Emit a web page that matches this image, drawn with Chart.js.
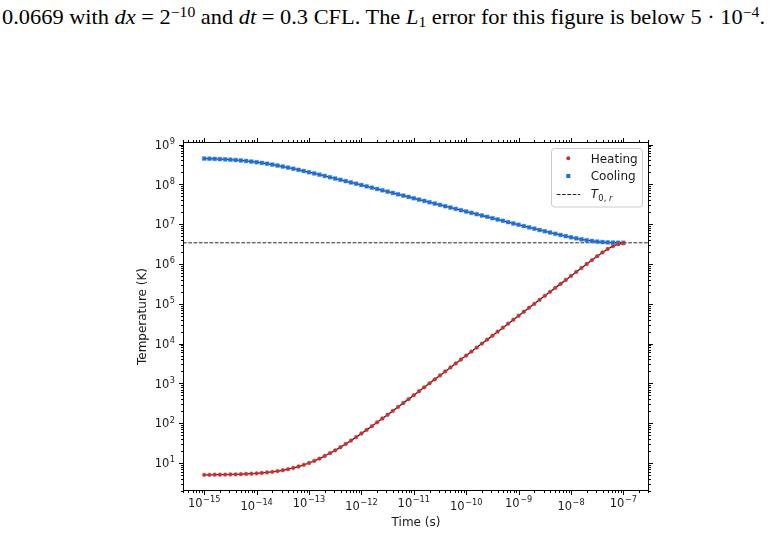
<!DOCTYPE html>
<html>
<head>
<meta charset="utf-8">
<script src="https://cdn.jsdelivr.net/npm/chart.js@4.4.1/dist/chart.umd.min.js"></script>
<style>
  body { margin: 0; background: #fff; }
  #wrap { position: relative; width: 771px; height: 535px; overflow: hidden; }
  #caption {
    position: absolute; left: 2px; top: 7px;
    font-family: "Liberation Serif", "DejaVu Serif", serif;
    font-size: 21px; line-height: 1; white-space: nowrap; color: #000;
    transform-origin: left top;
  }
  #caption .sup { position: relative; top: -0.45em; font-size: 0.7em; }
  #caption .sub { position: relative; top: 0.2em; font-size: 0.7em; }
  canvas { position: absolute; left: 0; top: 0; }
</style>
</head>
<body>
<div id="wrap">
  <div id="caption">0.0669 with <i>dx</i> = 2<span class="sup">−10</span> and <i>dt</i> = 0.3 CFL. The <i>L</i><span class="sub">1</span> error for this figure is below 5 · 10<span class="sup">−4</span>.</div>
  <canvas id="chart" width="771" height="535"></canvas>
</div>
<script>
// time samples (s)
const times = [
  1e-15, 1.259e-15, 1.585e-15, 1.995e-15, 2.512e-15, 3.162e-15, 3.981e-15, 5.012e-15, 6.310e-15, 7.943e-15,
  1e-14, 1.259e-14, 1.585e-14, 1.995e-14, 2.512e-14, 3.162e-14, 3.981e-14, 5.012e-14, 6.310e-14, 7.943e-14,
  1e-13, 1.259e-13, 1.585e-13, 1.995e-13, 2.512e-13, 3.162e-13, 3.981e-13, 5.012e-13, 6.310e-13, 7.943e-13,
  1e-12, 1.259e-12, 1.585e-12, 1.995e-12, 2.512e-12, 3.162e-12, 3.981e-12, 5.012e-12, 6.310e-12, 7.943e-12,
  1e-11, 1.259e-11, 1.585e-11, 1.995e-11, 2.512e-11, 3.162e-11, 3.981e-11, 5.012e-11, 6.310e-11, 7.943e-11,
  1e-10, 1.259e-10, 1.585e-10, 1.995e-10, 2.512e-10, 3.162e-10, 3.981e-10, 5.012e-10, 6.310e-10, 7.943e-10,
  1e-9, 1.259e-9, 1.585e-9, 1.995e-9, 2.512e-9, 3.162e-9, 3.981e-9, 5.012e-9, 6.310e-9, 7.943e-9,
  1e-8, 1.259e-8, 1.585e-8, 1.995e-8, 2.512e-8, 3.162e-8, 3.981e-8, 5.012e-8, 6.310e-8, 7.943e-8,
  1e-7
];

// heating run, temperature (K)
const heating = [
  5.05, 5.06, 5.08, 5.10, 5.13, 5.16, 5.20, 5.25, 5.32, 5.40,
  5.50, 5.63, 5.79, 6.00, 6.26, 6.58, 6.99, 7.51, 8.16, 8.97,
  10.0, 11.3, 12.9, 15.0, 17.6, 20.8, 24.9, 30.1, 36.5, 44.7,
  55, 68, 84, 105, 131, 163, 204, 256, 321, 402,
  505, 634, 797, 1003, 1261, 1586, 1996, 2511, 3160, 3977,
  5005, 6300, 7930, 9980, 12560, 15810, 19910, 25060, 31550, 39720,
  50000, 63000, 79300, 99800, 125600, 158100, 199100, 250600, 315500, 397200,
  500000, 629000, 792000, 996000, 1251000, 1566000, 1946000, 2375000, 2800000, 3130000,
  3312000
];

// cooling run, temperature (K)
const cooling = [
  4.437e8, 4.40e8, 4.355e8, 4.30e8, 4.237e8, 4.16e8, 4.074e8, 3.973e8, 3.858e8, 3.731e8,
  3.593e8, 3.445e8, 3.289e8, 3.127e8, 2.961e8, 2.795e8, 2.630e8, 2.467e8, 2.310e8, 2.159e8,
  2.013e8, 1.876e8, 1.745e8, 1.622e8, 1.507e8, 1.399e8, 1.298e8, 1.204e8, 1.116e8, 1.035e8,
  9.594e7, 8.890e7, 8.237e7, 7.631e7, 7.070e7, 6.551e7, 6.067e7, 5.621e7, 5.205e7, 4.822e7,
  4.467e7, 4.137e7, 3.831e7, 3.548e7, 3.286e7, 3.043e7, 2.818e7, 2.610e7, 2.417e7, 2.239e7,
  2.073e7, 1.920e7, 1.778e7, 1.647e7, 1.525e7, 1.413e7, 1.308e7, 1.212e7, 1.122e7, 1.039e7,
  9.64e6, 8.94e6, 8.29e6, 7.69e6, 7.13e6, 6.63e6, 6.16e6, 5.73e6, 5.34e6, 4.99e6,
  4.674e6, 4.398e6, 4.154e6, 3.947e6, 3.778e6, 3.644e6, 3.545e6, 3.477e6, 3.435e6, 3.413e6,
  3.404e6
];

const T0r = 3.4e6;   // equilibrium radiation temperature

const xLimits = [3.94e-16, 3.08e-7];
const yLimits = [1.98, 1.156e9];

const xTickValues = [1e-15, 1e-14, 1e-13, 1e-12, 1e-11, 1e-10, 1e-9, 1e-8, 1e-7];
const xTickLabels = ['−15', '−14', '−13', '−12', '−11', '−10', '−9', '−8', '−7'];
const yTickValues = [1e1, 1e2, 1e3, 1e4, 1e5, 1e6, 1e7, 1e8, 1e9];
const yTickLabels = ['1', '2', '3', '4', '5', '6', '7', '8', '9'];

const legendItems = ['Heating', 'Cooling'];

const RED = '#cf2b2b';
const BLUE = '#1b6fd8';
const FONT = '"DejaVu Sans", Verdana, sans-serif';

// fit caption to the page width
const cap = document.getElementById('caption');
cap.style.transform = 'scaleX(' + (763 / cap.getBoundingClientRect().width) + ')';

function toPoints(ys) {
  return ys.map((v, i) => ({ x: times[i], y: v }));
}

// "10" with a raised exponent
function drawPower(ctx, x, y, exp, align) {
  ctx.font = '11.5px ' + FONT;
  const wb = ctx.measureText('10').width;
  ctx.font = '8.2px ' + FONT;
  const we = ctx.measureText(exp).width;
  const w = wb + we + 0.5;
  let left = x;
  if (align === 'center') left = x - w / 2;
  if (align === 'right') left = x - w;
  ctx.textAlign = 'left';
  ctx.font = '11.5px ' + FONT;
  ctx.fillText('10', left, y);
  ctx.font = '8.2px ' + FONT;
  ctx.fillText(exp, left + wb + 0.5, y - 4.8);
}

function logTicks(min, max) {
  const out = [];
  for (let e = Math.floor(Math.log10(min)); e <= Math.ceil(Math.log10(max)); e++) {
    for (let m = 1; m < 10; m++) {
      const v = m * Math.pow(10, e);
      if (v >= min && v <= max) out.push({ v: v, major: m === 1 });
    }
  }
  return out;
}

const axesPlugin = {
  id: 'mplAxes',
  afterDatasetsDraw(chart) {
    const { ctx, chartArea: a, scales } = chart;
    const sx = scales.x, sy = scales.y;
    ctx.save();
    ctx.strokeStyle = '#000';
    ctx.lineWidth = 1;
    ctx.strokeRect(a.left + 0.5, a.top + 0.5, a.right - a.left - 1, a.bottom - a.top - 1);

    ctx.beginPath();
    logTicks(xLimits[0], xLimits[1]).forEach(t => {
      const px = Math.round(sx.getPixelForValue(t.v)) + 0.5;
      const len = t.major ? 4 : 2;
      ctx.moveTo(px, a.bottom); ctx.lineTo(px, a.bottom + len);
      ctx.moveTo(px, a.top); ctx.lineTo(px, a.top - len);
    });
    logTicks(yLimits[0], yLimits[1]).forEach(t => {
      const py = Math.round(sy.getPixelForValue(t.v)) + 0.5;
      const len = t.major ? 4 : 2;
      ctx.moveTo(a.left, py); ctx.lineTo(a.left - len, py);
      ctx.moveTo(a.right, py); ctx.lineTo(a.right + len, py);
    });
    ctx.stroke();

    ctx.fillStyle = '#1a1a1a';
    ctx.textBaseline = 'alphabetic';
    xTickValues.forEach((v, i) => {
      const px = sx.getPixelForValue(v);
      drawPower(ctx, px, a.bottom + 16 + (i % 2) * 2.5, xTickLabels[i], 'center');
    });
    yTickValues.forEach((v, i) => {
      const py = sy.getPixelForValue(v);
      drawPower(ctx, a.left - 8, py + 4.2, yTickLabels[i], 'right');
    });

    // axis titles
    ctx.font = '12px ' + FONT;
    ctx.textAlign = 'center';
    ctx.fillText('Time (s)', (a.left + a.right) / 2, 526);
    ctx.save();
    ctx.translate(146, (a.top + a.bottom) / 2);
    ctx.rotate(-Math.PI / 2);
    ctx.fillText('Temperature (K)', 0, 0);
    ctx.restore();
    ctx.restore();
  },
  afterDraw(chart) {
    const ctx = chart.ctx;
    ctx.save();
    // legend frame
    const bx = 551.5, by = 148.5, bw = 91, bh = 58.5, r = 3;
    ctx.beginPath();
    ctx.roundRect(bx, by, bw, bh, r);
    ctx.fillStyle = 'rgba(255,255,255,0.85)';
    ctx.fill();
    ctx.strokeStyle = '#cccccc';
    ctx.lineWidth = 1;
    ctx.stroke();

    const rows = [158.3, 176, 194];
    const mx = 568.3, tx = 590.7;
    // heating marker
    ctx.fillStyle = RED;
    ctx.beginPath(); ctx.arc(mx, rows[0], 2, 0, Math.PI * 2); ctx.fill();
    // cooling marker
    ctx.fillStyle = BLUE;
    ctx.fillRect(mx - 2, rows[1] - 2, 4, 4);
    // dashed handle
    ctx.strokeStyle = '#222';
    ctx.setLineDash([3.7, 1.6]);
    ctx.beginPath(); ctx.moveTo(556.7, rows[2] + 0.5); ctx.lineTo(580.3, rows[2] + 0.5); ctx.stroke();
    ctx.setLineDash([]);

    ctx.fillStyle = '#1a1a1a';
    ctx.textAlign = 'left';
    ctx.textBaseline = 'alphabetic';
    ctx.font = '12px ' + FONT;
    ctx.fillText(legendItems[0], tx, rows[0] + 4.3);
    ctx.fillText(legendItems[1], tx, rows[1] + 4.3);
    // T_{0,r}
    ctx.font = 'italic 12px ' + FONT;
    ctx.fillText('T', tx, rows[2] + 4.3);
    let w = ctx.measureText('T').width;
    ctx.font = '8.4px ' + FONT;
    ctx.fillText('0,', tx + w + 0.3, rows[2] + 6.8);
    const w2 = ctx.measureText('0, ').width;
    ctx.font = 'italic 8.4px ' + FONT;
    ctx.fillText('r', tx + w + 0.3 + w2, rows[2] + 6.8);
    ctx.restore();
  }
};

new Chart(document.getElementById('chart'), {
  type: 'scatter',
  data: {
    datasets: [
      {
        label: 'Heating',
        data: toPoints(heating),
        pointStyle: 'circle',
        pointRadius: 1.9,
        pointBackgroundColor: RED,
        pointBorderColor: 'rgba(215,80,80,0.55)',
        pointBorderWidth: 0.8,
        showLine: false,
        order: 0
      },
      {
        label: 'Cooling',
        data: toPoints(cooling),
        pointStyle: 'rect',
        pointRadius: 2.7,
        pointBackgroundColor: BLUE,
        pointBorderColor: 'rgba(70,140,235,0.55)',
        pointBorderWidth: 0.8,
        showLine: false,
        order: 0
      },
      {
        label: 'heating exact',
        data: toPoints(heating),
        showLine: true,
        borderColor: '#222',
        borderWidth: 1.3,
        pointRadius: 0,
        order: 1
      },
      {
        label: 'cooling exact',
        data: toPoints(cooling),
        showLine: true,
        borderColor: '#222',
        borderWidth: 1.3,
        pointRadius: 0,
        order: 1
      },
      {
        label: 'T0r',
        data: [{ x: xLimits[0], y: T0r }, { x: xLimits[1], y: T0r }],
        showLine: true,
        borderColor: '#2a2a2a',
        borderWidth: 1,
        borderDash: [3.7, 1.6],
        pointRadius: 0,
        order: 2
      }
    ]
  },
  options: {
    responsive: false,
    animation: false,
    devicePixelRatio: 1,
    layout: { padding: { left: 183, right: 122, top: 142, bottom: 44 } },
    plugins: { legend: { display: false }, tooltip: { enabled: false } },
    scales: {
      x: { type: 'logarithmic', display: false, min: xLimits[0], max: xLimits[1], bounds: 'data' },
      y: { type: 'logarithmic', display: false, min: yLimits[0], max: yLimits[1], bounds: 'data' }
    }
  },
  plugins: [axesPlugin]
});
</script>
</body>
</html>
